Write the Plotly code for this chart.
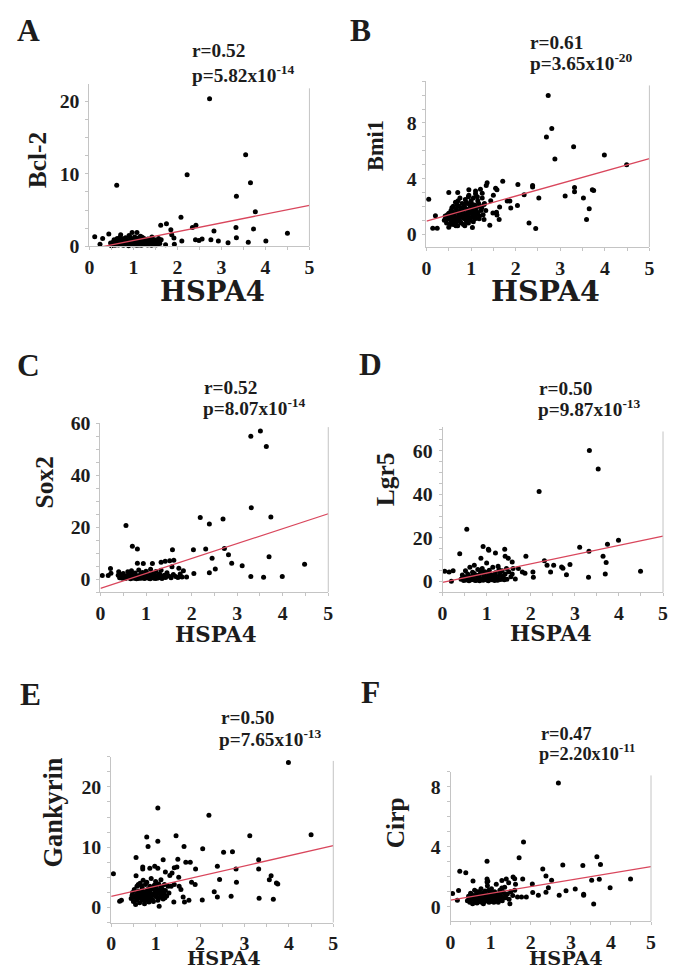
import plotly.graph_objects as go

W, H = 676, 976

# ---------------- data ----------------
hspa4_a = [2.73, 3.55, 2.22, 0.62, 3.66, 3.34, 3.77, 2.08, 2.42, 2.34, 1.62, 1.75, 1.85, 2.83, 3.33, 3.73, 4.50,
           3.34, 2.41, 2.49, 2.56, 2.76, 2.93, 3.15, 3.61, 4.01, 2.10, 1.93, 1.73, 0.12, 0.24, 0.30, 0.44, 1.92, 1.87,
           0.52, 0.56, 0.60, 0.63, 0.66, 0.68, 0.70, 0.72, 0.75, 0.77, 0.80, 0.82, 0.84, 0.87, 0.90, 0.92, 0.95, 0.97,
           0.99, 1.01, 1.03, 1.05, 1.08, 1.10, 1.12, 1.14, 1.16, 1.19, 1.21, 1.24, 1.27, 1.30, 1.33, 1.36, 1.39, 1.42,
           1.45, 1.48, 1.51, 1.54, 1.57, 1.60, 1.63, 0.58, 0.65, 0.74, 0.79, 0.86, 0.89, 0.94, 1.00, 1.06, 1.11, 1.18,
           1.23, 1.29, 1.35, 1.41, 1.47, 1.55, 0.48, 0.50, 0.71, 0.83, 0.96, 1.07, 1.17, 1.26, 1.38, 1.44, 0.61, 0.93,
           1.02, 1.13, 1.20, 1.32, 0.54]
bcl2 = [20.3, 12.6, 9.86, 8.4, 8.75, 6.9, 4.77, 4.0, 2.9, 2.6, 2.9, 3.1, 2.27, 2.1, 2.6, 2.4, 1.8,
        1.2, 0.9, 0.8, 1.0, 0.9, 0.74, 0.5, 0.55, 0.74, 0.74, 0.3, 0.23, 1.34, 0.28, 1.1, 1.7, 1.15, 1.6,
        0.3, 0.9, 0.5, 1.1, 0.2, 0.7, 1.3, 0.4, 0.9, 0.15, 0.6, 1.2, 0.3, 0.8, 1.5, 0.5, 1.0, 1.9,
        0.2, 0.7, 1.3, 0.4, 1.9, 0.9, 0.2, 0.6, 1.4, 0.35, 0.8, 1.1, 0.25, 0.6, 1.0, 0.3, 0.7, 1.3,
        0.4, 0.9, 0.2, 0.6, 1.1, 0.4, 0.9, 0.15, 0.55, 0.25, 1.05, 0.45, 0.1, 0.65, 0.45, 0.85, 1.15, 0.15,
        0.5, 0.9, 0.55, 0.15, 0.55, 0.3, 0.45, 0.1, 1.6, 0.75, 0.3, 0.15, 0.95, 0.65, 0.45, 0.8, 0.75, 1.25,
        0.95, 0.45, 1.25, 0.2, 0.6]

hspa4_b = [2.73, 2.81, 2.69, 3.30, 2.88, 3.99, 4.49, 1.71, 2.05, 2.38, 2.38, 2.19, 2.52, 3.11, 3.32, 3.32, 3.72,
           3.75, 3.52, 3.65, 3.59, 2.30, 2.45, 2.04, 1.89, 1.81, 1.87, 0.05, 0.14, 0.24, 0.20, 0.50, 0.70, 1.03,
           1.42, 1.63, 1.36, 1.34, 1.55, 1.58, 1.50, 1.25, 1.21, 0.95, 1.10, 0.94, 1.29, 1.33, 1.29, 1.44, 1.49,
           1.57, 1.58, 1.64,
           0.40, 0.42, 0.45, 0.48, 0.50, 0.50, 0.52, 0.55, 0.55, 0.58, 0.60, 0.60, 0.62, 0.63, 0.65, 0.65, 0.67,
           0.68, 0.70, 0.70, 0.72, 0.73, 0.75, 0.75, 0.77, 0.78, 0.80, 0.80, 0.82, 0.83, 0.85, 0.85, 0.87, 0.88,
           0.90, 0.90, 0.92, 0.93, 0.95, 0.95, 0.97, 0.98, 1.00, 1.00, 1.02, 1.03, 1.05, 1.05, 1.07, 1.08, 1.10,
           1.10, 1.12, 1.15, 1.15, 1.18, 1.20, 1.22, 1.25, 1.27, 1.30, 0.56, 0.61, 0.66, 0.69, 0.74, 0.79, 0.84,
           0.86, 0.91, 0.96, 0.99, 1.04, 1.06, 1.13, 1.17, 0.47, 0.53, 0.57, 0.64, 0.71, 0.76, 0.81, 0.89, 0.94,
           1.01, 1.09, 1.14, 0.44, 0.59, 0.89, 1.19, 1.24, 0.72, 0.67]
bmi1 = [9.98, 7.6, 7.0, 6.29, 5.4, 5.7, 5.0, 3.8, 3.57, 3.5, 3.4, 2.83, 2.6, 2.74, 3.36, 3.05, 3.2,
        3.14, 2.6, 1.83, 1.05, 0.81, 0.4, 2.07, 1.88, 2.38, 2.38, 2.52, 0.43, 0.43, 1.33, 3.0, 3.0, 0.48,
        0.64, 1.05, 3.7, 3.5, 3.3, 3.2, 2.8, 2.95, 3.24, 3.2, 3.1, 2.7, 2.14, 1.71, 1.05, 2.4, 1.52,
        1.57, 1.38, 1.95,
        1.0, 1.3, 0.8, 1.1, 1.5, 0.5, 1.2, 0.9, 1.7, 1.3, 2.0, 0.7, 1.1, 1.5, 0.9, 2.3, 1.8,
        1.2, 0.6, 1.6, 2.0, 1.0, 1.4, 2.6, 1.8, 0.8, 1.2, 2.2, 1.6, 0.7, 2.0, 1.1, 2.5, 1.4,
        1.8, 0.9, 2.2, 1.3, 1.6, 2.8, 1.0, 2.0, 1.5, 2.4, 1.2, 1.8, 0.9, 2.6, 1.6, 2.1, 1.3,
        2.9, 1.9, 1.5, 2.4, 1.1, 2.0, 1.7, 2.6, 1.4, 2.2, 1.0, 1.4, 0.6, 2.1, 1.2, 1.5, 1.3,
        0.6, 1.5, 1.2, 1.7, 1.4, 2.0, 1.6, 2.2, 1.4, 0.7, 1.9, 1.0, 2.4, 0.9, 1.9, 2.3, 0.8,
        2.2, 1.1, 2.7, 1.1, 1.6, 1.0, 1.3, 1.9, 1.3, 0.9]

hspa4_c = [3.51, 3.30, 3.64, 3.31, 3.74, 2.19, 2.69, 2.39, 0.56, 0.70, 0.81, 1.58, 2.04, 2.31, 2.72, 2.81, 2.45,
           3.70, 2.88, 3.11, 4.48, 2.52, 2.39, 2.05, 3.30, 3.58, 3.99, 0.04, 0.17, 0.23, 0.22, 0.40, 0.39, 0.81,
           0.94, 1.14, 1.33, 1.42, 1.52, 1.61, 1.57, 1.72, 1.82, 1.89, 1.79, 1.75,
           0.42, 0.45, 0.48, 0.50, 0.52, 0.55, 0.57, 0.60, 0.62, 0.64, 0.66, 0.68, 0.70, 0.72, 0.74, 0.76, 0.78,
           0.80, 0.82, 0.84, 0.86, 0.88, 0.90, 0.92, 0.94, 0.96, 0.98, 1.00, 1.02, 1.04, 1.06, 1.08, 1.10, 1.12,
           1.14, 1.16, 1.18, 1.20, 1.22, 1.25, 1.28, 1.30, 1.33, 1.36, 1.40, 1.43, 1.46, 1.50, 1.55, 1.60, 1.65,
           1.70, 0.56, 0.63, 0.69, 0.75, 0.81, 0.87, 0.93, 0.99, 1.05, 1.11, 1.17, 1.24, 1.35, 0.47, 0.71, 0.89,
           1.01, 1.19, 1.27, 1.38, 0.79, 0.97, 1.09]
sox2 = [57.1, 55.0, 51.1, 27.5, 23.9, 23.7, 23.2, 21.2, 20.7, 12.7, 11.6, 11.3, 11.3, 11.6, 11.8, 9.4, 8.0,
        8.65, 6.1, 5.2, 5.7, 3.9, 2.5, 2.2, 1.0, 0.76, 1.0, 1.4, 1.4, 2.3, 4.1, 2.8, 1.5, 6.1,
        6.0, 6.0, 6.5, 6.9, 7.1, 7.3, 4.8, 4.2, 3.2, 0.8, 0.8, 2.0,
        0.5, 1.5, 0.3, 2.2, 0.8, 0.2, 1.2, 2.8, 0.5, 1.8, 0.1, 3.2, 0.9, 1.6, 0.3, 2.4, 0.7,
        1.3, 0.2, 3.5, 0.9, 1.9, 0.4, 2.6, 1.1, 0.2, 1.6, 3.0, 0.6, 2.1, 0.3, 1.4, 3.8, 0.8,
        2.3, 0.4, 1.7, 0.2, 2.9, 1.0, 0.5, 2.0, 3.4, 0.9, 1.5, 0.6, 2.5, 1.2, 0.5, 1.8, 1.0,
        0.6, 0.6, 1.0, 0.4, 1.1, 0.5, 0.3, 0.7, 0.4, 1.1, 0.5, 1.0, 0.3, 0.2, 1.0, 2.0, 1.4,
        1.9, 1.2, 1.5, 0.7, 0.15, 0.9, 0.15]

hspa4_d = [3.33, 3.53, 2.19, 0.55, 0.92, 1.04, 1.05, 1.41, 1.20, 0.87, 1.42, 1.49, 1.89, 0.39, 3.11, 3.32, 3.74,
           3.99, 3.64, 3.71, 2.31, 2.37, 2.52, 2.70, 2.73, 2.89, 2.45, 2.81, 3.69, 3.31, 4.49, 2.06, 2.05, 0.05,
           0.15, 0.24, 0.20, 1.72, 1.81, 1.87, 1.58,
           0.42, 0.45, 0.48, 0.50, 0.52, 0.55, 0.57, 0.60, 0.62, 0.64, 0.66, 0.68, 0.70, 0.72, 0.74, 0.76, 0.78,
           0.80, 0.82, 0.84, 0.86, 0.88, 0.90, 0.92, 0.94, 0.96, 0.98, 1.00, 1.02, 1.04, 1.06, 1.08, 1.10, 1.12,
           1.14, 1.16, 1.18, 1.20, 1.23, 1.26, 1.29, 1.32, 1.35, 1.38, 1.42, 1.46, 1.50, 1.55, 1.60, 1.65, 0.58,
           0.65, 0.71, 0.77, 0.83, 0.89, 0.95, 1.01, 1.07, 1.13, 1.19, 1.25, 1.31, 1.37, 1.45, 0.46, 0.53, 0.69,
           0.87, 0.97, 1.05, 1.17, 1.28, 1.40, 1.58]
lgr5 = [60.2, 51.7, 41.3, 24.0, 16.1, 14.8, 14.4, 14.8, 13.1, 10.7, 11.6, 10.7, 11.6, 12.7, 15.7, 13.9, 17.1,
        19.0, 11.6, 8.7, 9.5, 7.5, 7.5, 6.7, 6.1, 7.8, 4.4, 3.1, 3.5, 2.0, 4.7, 2.0, 4.4, 4.7,
        4.4, 4.9, 0.15, 6.0, 4.4, 3.8, 9.0,
        1.0, 3.0, 0.5, 2.0, 5.0, 1.2, 3.5, 0.4, 6.5, 2.2, 0.8, 4.2, 1.6, 7.5, 0.5, 3.0, 1.0,
        5.5, 2.0, 0.3, 3.8, 1.3, 6.0, 0.6, 2.6, 4.5, 1.0, 8.5, 2.0, 0.4, 5.2, 1.5, 3.2, 0.8,
        6.5, 2.2, 0.5, 4.0, 1.4, 7.0, 2.8, 0.9, 5.0, 1.8, 3.5, 1.0, 4.5, 2.2, 6.0, 1.2, 2.5,
        1.5, 3.8, 0.6, 2.8, 1.0, 3.5, 0.7, 2.8, 1.2, 3.0, 0.6, 4.2, 2.5, 6.0, 1.8, 0.7, 2.8,
        5.0, 2.2, 3.8, 1.6, 5.5, 0.8, 3.4]

hspa4_e = [3.99, 1.05, 2.20, 4.50, 3.12, 0.80, 1.46, 1.05, 0.83, 1.64, 2.06, 2.53, 2.73, 0.56, 1.17, 1.50, 1.68,
           1.78, 3.32, 2.39, 1.42, 1.48, 1.90, 2.81, 3.32, 2.44, 2.82, 3.60, 3.56, 3.72, 3.75, 1.81, 1.89, 2.32,
           2.39, 2.70, 2.05, 3.33, 3.65, 0.05, 0.19, 0.23, 0.56, 0.71, 0.71, 0.87, 0.98, 1.05, 1.22, 1.32, 1.35,
           1.42, 1.53, 1.57, 1.62, 1.75, 1.65, 1.08, 1.41, 1.37, 1.52,
           0.45, 0.48, 0.50, 0.52, 0.55, 0.55, 0.58, 0.60, 0.62, 0.64, 0.65, 0.67, 0.70, 0.70, 0.72, 0.74, 0.75,
           0.77, 0.78, 0.80, 0.80, 0.82, 0.84, 0.85, 0.87, 0.88, 0.90, 0.90, 0.92, 0.94, 0.95, 0.97, 0.98, 1.00,
           1.00, 1.02, 1.04, 1.05, 1.07, 1.08, 1.10, 1.12, 1.13, 1.15, 1.17, 1.20, 1.22, 1.25, 1.28, 1.30, 0.57,
           0.61, 0.66, 0.69, 0.73, 0.79, 0.83, 0.86, 0.91, 0.96, 1.01, 1.06, 1.11, 1.16, 1.21, 0.47, 0.53, 0.59,
           0.63, 0.71, 0.76, 0.81, 0.89, 0.93, 0.99, 1.03, 1.09, 1.14, 1.19, 0.68]
gankyrin = [24.05, 16.5, 15.3, 12.05, 11.9, 11.7, 11.9, 11.0, 10.1, 10.1, 9.75, 9.15, 9.26, 8.3, 7.9, 8.0, 7.5,
            7.5, 7.9, 6.85, 6.6, 6.7, 6.4, 6.4, 6.4, 4.66, 4.2, 5.26, 4.6, 4.05, 3.9, 4.2, 3.8, 2.6,
            1.75, 1.86, 1.26, 1.53, 1.37, 5.6, 1.04, 1.2, 5.26, 6.7, 6.4, 6.5, 6.85, 6.5, 5.9, 5.3, 3.5,
            3.8, 3.5, 3.0, 1.75, 1.2, 0.9, 0.2, 0.9, 5.7, 5.0,
            1.5, 2.5, 1.0, 3.0, 2.0, 0.5, 3.5, 1.5, 2.7, 0.8, 4.0, 2.2, 1.2, 3.2, 4.5, 2.0, 0.6,
            3.8, 2.6, 1.4, 4.2, 3.0, 2.0, 0.9, 3.5, 2.4, 1.5, 4.8, 3.1, 2.2, 1.0, 3.7, 2.8, 1.8,
            4.3, 3.2, 2.3, 1.2, 3.9, 2.9, 1.7, 4.6, 3.4, 2.5, 1.4, 3.8, 2.8, 1.9, 3.5, 2.4, 1.2,
            3.8, 1.7, 2.8, 1.6, 2.3, 1.1, 2.8, 2.0, 3.3, 2.6, 1.5, 2.1, 3.0, 1.6, 2.0, 1.7, 2.4,
            1.9, 2.5, 1.3, 1.8, 3.2, 1.3, 2.1, 3.8, 2.4, 1.9, 2.3, 3.6]

hspa4_f = [2.69, 1.82, 1.71, 0.91, 3.65, 3.74, 2.80, 3.30, 2.30, 2.38, 0.23, 0.38, 0.56, 2.52, 1.80, 2.04, 3.52,
           3.71, 4.49, 3.98, 2.44, 2.38, 3.11, 2.88, 3.32, 3.32, 3.57, 2.71, 2.05, 2.19, 1.67, 1.77, 1.89, 0.05,
           0.20, 0.17, 0.91, 0.93, 1.28, 1.39, 1.56, 1.60, 1.48, 1.62, 1.45,
           0.42, 0.45, 0.48, 0.50, 0.52, 0.55, 0.57, 0.60, 0.62, 0.64, 0.66, 0.68, 0.70, 0.72, 0.74, 0.76, 0.78,
           0.80, 0.82, 0.84, 0.86, 0.88, 0.90, 0.92, 0.94, 0.96, 0.98, 1.00, 1.02, 1.04, 1.06, 1.08, 1.10, 1.12,
           1.14, 1.16, 1.18, 1.20, 1.23, 1.26, 1.29, 1.32, 1.35, 1.38, 1.42, 1.46, 1.50, 1.55, 1.60, 0.53, 0.59,
           0.65, 0.71, 0.77, 0.83, 0.89, 0.95, 1.01, 1.07, 1.13, 1.19, 1.25, 1.31, 1.37, 0.46, 0.61, 0.73, 0.79,
           0.85, 0.91, 0.97, 1.03, 1.09, 1.15, 1.22, 1.28, 0.67, 0.93]
cirp = [8.24, 4.32, 3.26, 3.04, 3.33, 2.82, 2.78, 2.75, 2.51, 2.05, 2.36, 2.27, 1.72, 1.76, 1.85, 1.52, 1.76,
        1.83, 1.85, 1.26, 1.26, 0.97, 1.19, 1.06, 0.84, 0.77, 0.18, 0.77, 0.95, 0.77, 0.66, 0.66, 0.66, 0.88,
        1.08, 0.44, 1.85, 1.70, 1.75, 1.85, 1.98, 1.87, 0.20, 1.50, 1.60,
        0.4, 0.7, 0.3, 0.9, 0.5, 0.2, 0.7, 1.1, 0.4, 0.8, 0.25, 0.6, 1.0, 0.35, 0.75, 1.2, 0.5,
        0.9, 0.2, 0.65, 1.05, 0.4, 0.8, 1.4, 0.55, 0.3, 0.95, 0.6, 1.2, 0.45, 0.8, 0.3, 1.0, 0.6,
        1.5, 0.4, 0.85, 0.55, 1.1, 0.7, 0.4, 0.95, 1.3, 0.6, 0.85, 0.5, 1.0, 0.75, 1.1, 0.8, 0.45,
        1.0, 0.5, 0.3, 0.85, 0.6, 1.1, 0.35, 0.65, 0.85, 0.3, 0.95, 0.6, 0.8, 0.55, 0.7, 0.9, 0.65,
        0.35, 1.65, 0.75, 0.9, 0.5, 0.7, 0.45, 1.25, 0.45, 0.5]

# regression fits: (intercept, slope)
fits = {"A": (-0.40, 1.21), "B": (0.94, 0.90), "C": (-3.56, 5.75),
        "D": (-0.40, 4.24), "E": (1.85, 1.68), "F": (0.45, 0.445)}
r_values = {"A": "0.52", "B": "0.61", "C": "0.52", "D": "0.50", "E": "0.50", "F": "0.47"}
p_values = {"A": ("5.82", "-14"), "B": ("3.65", "-20"), "C": ("8.07", "-14"),
            "D": ("9.87", "-13"), "E": ("7.65", "-13"), "F": ("2.20", "-11")}
y_names = {"A": "Bcl-2", "B": "Bmi1", "C": "Sox2", "D": "Lgr5", "E": "Gankyrin", "F": "Cirp"}
x_name = "HSPA4"
x_ticks = [0, 1, 2, 3, 4, 5]

series = {"A": (hspa4_a, bcl2), "B": (hspa4_b, bmi1), "C": (hspa4_c, sox2),
          "D": (hspa4_d, lgr5), "E": (hspa4_e, gankyrin), "F": (hspa4_f, cirp)}

# ---------------- layout, given in photographed-picture pixels ----------------
boxes = {
    "A": dict(l=90, r=309.5, t=82, b=245, yr=[0, 22.3], dt=10, mdt=2.5),
    "B": dict(l=426.3, r=648.7, t=79, b=245.7, yr=[-0.93, 11], dt=4, mdt=1),
    "C": dict(l=101, r=328.3, t=422.5, b=592.7, yr=[-5, 60.2], dt=20, mdt=5),
    "D": dict(l=442.3, r=662.3, t=427, b=593, yr=[-5, 70.8], dt=20, mdt=5),
    "E": dict(l=111.7, r=333.3, t=758.3, b=925, yr=[-2.5, 25], dt=10, mdt=2.5),
    "F": dict(l=450.3, r=650.3, t=773.3, b=923.5, yr=[-0.95, 9], dt=4, mdt=1),
}
letter_pos = {"A": (29.5, 28), "B": (360, 28), "C": (29, 365), "D": (370, 364), "E": (31, 696), "F": (370, 694)}
r_pos = {"A": (190, 48), "B": (528, 40), "C": (202, 387), "D": (537, 388), "E": (219, 719), "F": (539, 735)}
p_pos = {"A": (190, 72), "B": (528, 60), "C": (201, 407), "D": (536, 408), "E": (217, 739), "F": (537, 754)}
ytitle = {"A": (38, 158, 25), "B": (376, 144, 22), "C": (45, 482, 25), "D": (385, 479, 25),
          "E": (54, 814, 26), "F": (395, 825, 25)}
xtitle = {"A": (213, 290, 27), "B": (545.5, 290, 28), "C": (216, 635, 21), "D": (550.5, 634, 21),
          "E": (224.7, 961, 19), "F": (565, 961, 19)}

# the photograph shows the page slightly reduced about its centre; place things so they land on target
S = 0.983
CX, CY = W / 2, H / 2


def px(xp):
    return (CX + (xp - CX) / S) / W


def py(yp):
    return 1 - (CY + (yp - CY) / S) / H


def fs(size):
    return round(size / S, 1)


AX_COLOR = "#c4c4c4"
TXT = "#1c1c1c"
SERIF = "Liberation Serif"
WIDE = "DejaVu Serif"

fig = go.Figure()
annotations = []
shapes = []
order = ["A", "B", "C", "D", "E", "F"]
for i, key in enumerate(order):
    n = "" if i == 0 else str(i + 1)
    xa, ya = "x" + n, "y" + n
    bx = boxes[key]
    xs, ys = series[key]
    fig.add_trace(go.Scatter(x=xs, y=ys, mode="markers", xaxis=xa, yaxis=ya,
                             marker=dict(color="black", size=5), cliponaxis=False,
                             showlegend=False, hoverinfo="skip"))
    a, b = fits[key]
    xl = [x_ticks[0], x_ticks[-1]]
    fig.add_trace(go.Scatter(x=xl, y=[a + b * v for v in xl], mode="lines", xaxis=xa, yaxis=ya,
                             line=dict(color="#d9465c", width=1.3), showlegend=False, hoverinfo="skip"))
    common = dict(showline=True, linecolor=AX_COLOR, linewidth=1, ticks="outside", ticklen=3,
                  tickcolor=AX_COLOR, showgrid=False, zeroline=False,
                  tickfont=dict(family=SERIF, size=fs(19.5), color=TXT, weight="bold"))
    fig.layout["xaxis" + n] = dict(common, domain=[px(bx["l"]), px(bx["r"])], range=[0, 5], anchor=ya,
                                   tickvals=x_ticks, minor=dict(dtick=0.5, ticks="outside", ticklen=3,
                                                                tickcolor=AX_COLOR))
    fig.layout["yaxis" + n] = dict(common, domain=[py(bx["b"]), py(bx["t"])], range=bx["yr"], anchor=xa,
                                   tick0=0, dtick=bx["dt"], ticklabelstandoff=2,
                                   minor=dict(tick0=0, dtick=bx["mdt"], ticks="outside", ticklen=3,
                                              tickcolor=AX_COLOR))
    shapes.append(dict(type="line", xref=xa + " domain", yref=ya + " domain", x0=1, x1=1, y0=0, y1=0.975,
                       line=dict(color=AX_COLOR, width=1)))
    lx, ly = letter_pos[key]
    annotations.append(dict(text=key, x=px(lx), y=py(ly), xref="paper", yref="paper", showarrow=False,
                            xanchor="center", yanchor="middle",
                            font=dict(family=SERIF, size=fs(31), color=TXT, weight="bold")))
    fsz = 18 if key == "F" else 19
    rx, ry = r_pos[key]
    annotations.append(dict(text="r=" + r_values[key], x=px(rx), y=py(ry), xref="paper", yref="paper",
                            showarrow=False, xanchor="left", yanchor="middle",
                            font=dict(family=SERIF, size=fs(fsz), color=TXT, weight="bold")))
    mant, ex = p_values[key]
    qx, qy = p_pos[key]
    annotations.append(dict(text="p=" + mant + "x10<sup>" + ex + "</sup>", x=px(qx), y=py(qy),
                            xref="paper", yref="paper", showarrow=False, xanchor="left", yanchor="middle",
                            font=dict(family=SERIF, size=fs(fsz), color=TXT, weight="bold")))
    tx, ty, ts = ytitle[key]
    annotations.append(dict(text=y_names[key], x=px(tx), y=py(ty), xref="paper", yref="paper",
                            showarrow=False, textangle=-90, xanchor="center", yanchor="middle",
                            font=dict(family=SERIF, size=fs(ts), color=TXT, weight="bold")))
    hx, hy, hs = xtitle[key]
    annotations.append(dict(text=x_name, x=px(hx), y=py(hy), xref="paper", yref="paper",
                            showarrow=False, xanchor="center", yanchor="middle",
                            font=dict(family=WIDE, size=fs(hs), color=TXT, weight="bold")))

fig.update_layout(width=W, height=H, margin=dict(l=0, r=0, t=0, b=0), paper_bgcolor="white",
                  plot_bgcolor="white", annotations=annotations, shapes=shapes, showlegend=False,
                  hovermode=False)
# remove the default 8px page margin so the figure sits at the window's top-left corner
fig.write_html("out.html", config={"displayModeBar": False, "staticPlot": True},
               post_script="document.body.style.margin='0px';"
                           "document.documentElement.style.overflow='hidden';")
